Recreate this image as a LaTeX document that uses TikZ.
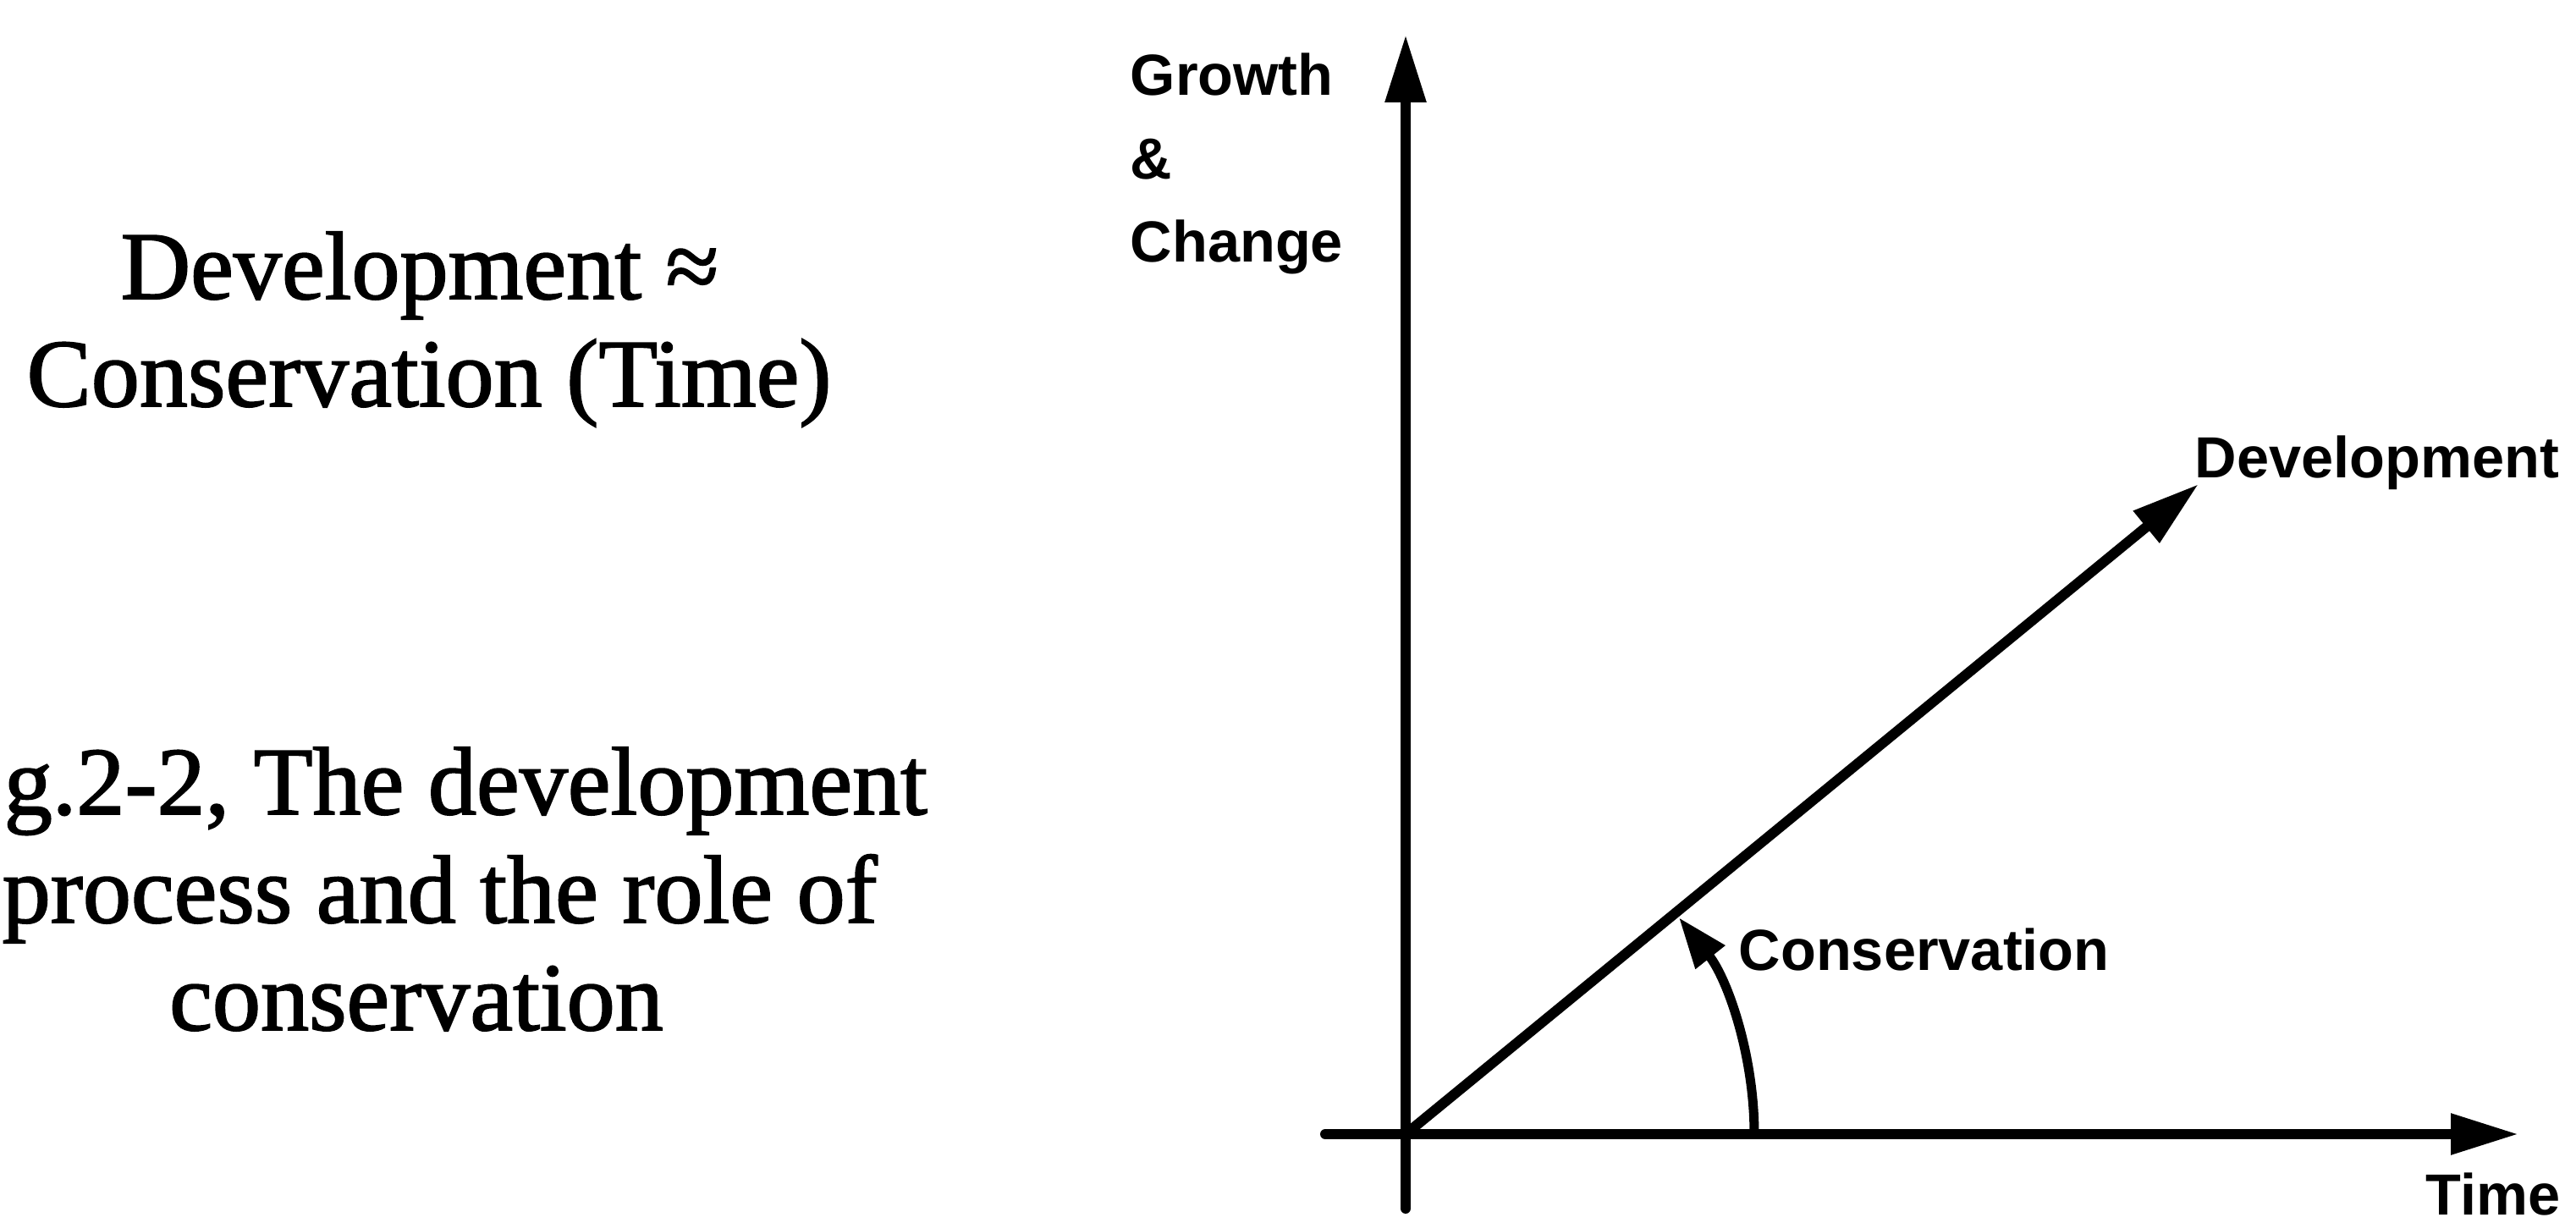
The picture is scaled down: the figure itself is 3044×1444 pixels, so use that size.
\documentclass[tikz,border=0pt]{standalone}
\usepackage{fontspec}
\setmainfont{Liberation Serif}
\setsansfont{Liberation Sans}
\newfontfamily\heavyserif{Liberation Serif}[FakeBold=1.6]
\usetikzlibrary{arrows.meta}

\begin{document}
\begin{tikzpicture}[x=0.1mm, y=0.1mm, line cap=round,
    axis/.style={line width=1.2mm, -{Triangle[length=8mm, width=4.6mm]}},
    arc line/.style={line width=1.1mm, -{Triangle[length=6mm, width=4.2mm]}},
    serif text/.style={font=\heavyserif\fontsize{32.5}{36}\selectfont, inner sep=0pt, anchor=base},
    label text/.style={font=\sffamily\bfseries\fontsize{19.5}{24}\selectfont, inner sep=0pt, anchor=base west}]

    \useasboundingbox (0,0) rectangle (3044,1444);

    % 左侧公式
    \node[serif text] (formula1) at (496,1091) {Development ≈};
    \node[serif text] (formula2) at (507,964) {Conservation (Time)};

    % 图题 (左边被裁掉)
    \node[serif text, anchor=base west] (caption1) at (4,482) {g.2-2, The development};
    \node[serif text, anchor=base west] (caption2) at (2,354) {process and the role of};
    \node[serif text] (caption3) at (492,227) {conservation};

    % 坐标轴
    \coordinate (O) at (1661,104);
    \coordinate (ytop) at (1661,1403);
    \coordinate (ybot) at (1661,16);
    \coordinate (xleft) at (1566,104);
    \coordinate (xtip) at (2976,104);
    \draw[axis] (ybot) -- (ytop);
    \draw[axis] (xleft) -- (xtip);

    % 发展矢量
    \coordinate (devtip) at (2598,872);
    \draw[axis] (O) -- (devtip);

    % 保护角
    \coordinate (arcstart) at (2073,104);
    \draw[arc line] (arcstart) arc[start angle=0, end angle=38.4, radius=412];

    % 标注
    \node[label text] (growth) at (1335,1331) {Growth};
    \node[label text] (amp) at (1335,1232) {\&};
    \node[label text] (change) at (1335,1134) {Change};
    \node[label text] (devlabel) at (2593,879) {Development};
    \node[label text] (conslabel) at (2054,297) {Conservation};
    \node[label text] (timelabel) at (2866,9) {Time};
\end{tikzpicture}
\end{document}
